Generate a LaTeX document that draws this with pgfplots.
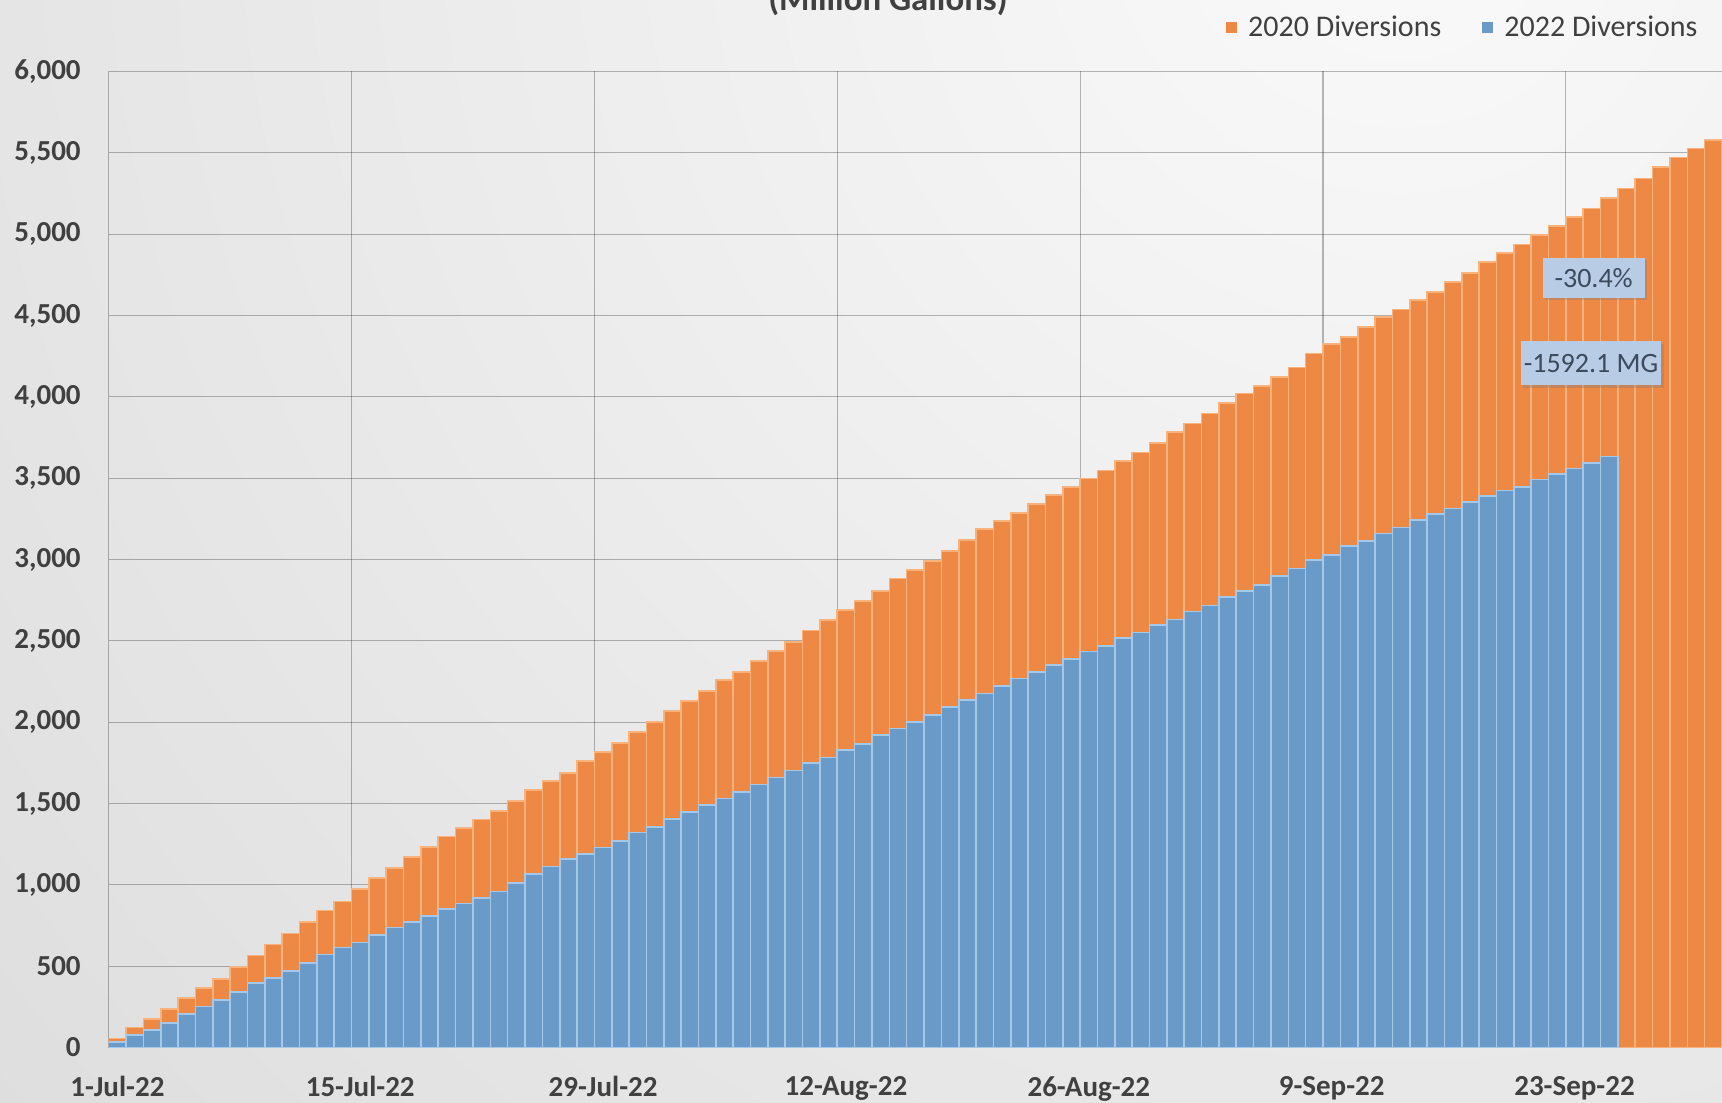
\documentclass[border=0pt]{standalone}
\usepackage{pgfplots}
\pgfplotsset{compat=1.18}
\usepackage{pgfplotstable}
\usepackage{fontspec}
\setmainfont{Carlito}
\usetikzlibrary{shadows}

\definecolor{bar20}{HTML}{ED8945}
\definecolor{bar20edge}{HTML}{F8B27C}
\definecolor{bar22}{HTML}{6A9AC8}
\definecolor{bar22edge}{HTML}{A3C8EA}
\definecolor{labelgray}{HTML}{404040}
\definecolor{calloutfill}{HTML}{B8CCE6}
\definecolor{callouttext}{HTML}{3C4A5E}

% cumulative diversions, million gallons; day 0 = 1 July
\pgfplotstableread{
day val
0 55
1 122
2 175
3 238
4 304
5 366
6 421
7 496
8 566
9 634
10 700
11 773
12 841
13 897
14 975
15 1041
16 1105
17 1170
18 1234
19 1296
20 1351
21 1402
22 1455
23 1515
24 1582
25 1640
26 1689
27 1763
28 1818
29 1873
30 1941
31 2002
32 2068
33 2130
34 2191
35 2259
36 2310
37 2377
38 2437
39 2494
40 2563
41 2627
42 2689
43 2746
44 2806
45 2883
46 2935
47 2990
48 3051
49 3119
50 3187
51 3236
52 3287
53 3340
54 3396
55 3447
56 3498
57 3547
58 3607
59 3659
60 3717
61 3785
62 3836
63 3898
64 3963
65 4021
66 4066
67 4123
68 4181
69 4267
70 4324
71 4369
72 4431
73 4492
74 4537
75 4595
76 4646
77 4707
78 4763
79 4830
80 4886
81 4937
82 4994
83 5049
84 5107
85 5158
86 5224
87 5281
88 5342
89 5414
90 5472
91 5527
92 5578
}\divtwenty

\pgfplotstableread{
day val
0 35
1 76
2 107
3 149
4 205
5 252
6 293
7 341
8 397
9 428
10 469
11 521
12 572
13 614
14 645
15 690
16 738
17 773
18 810
19 850
20 885
21 920
22 960
23 1010
24 1065
25 1112
26 1157
27 1190
28 1229
29 1271
30 1321
31 1357
32 1405
33 1446
34 1490
35 1531
36 1572
37 1616
38 1661
39 1703
40 1750
41 1783
42 1828
43 1865
44 1921
45 1962
46 2002
47 2043
48 2095
49 2136
50 2177
51 2222
52 2269
53 2310
54 2351
55 2389
56 2435
57 2470
58 2517
59 2550
60 2597
61 2630
62 2680
63 2717
64 2771
65 2808
66 2843
67 2898
68 2945
69 2996
70 3027
71 3082
72 3115
73 3160
74 3197
75 3242
76 3279
77 3314
78 3355
79 3390
80 3423
81 3447
82 3492
83 3525
84 3560
85 3595
86 3632
}\divtwentytwo

\begin{document}
\begin{tikzpicture}
\useasboundingbox (-54.35bp,-27.75bp) rectangle (806.65bp,523.75bp);
\clip (-54.35bp,-27.75bp) rectangle (806.65bp,523.75bp);
\shade[inner color=white!98!black, outer color=white!78!black] (645.6bp,573.75bp) circle (1700bp);

\node[font=\fontsize{17.4bp}{20bp}\selectfont\bfseries, text=labelgray, anchor=base]
  at (389.6bp,518.7bp) {(Million Gallons)};

\begin{axis}[
  at={(0,0)}, anchor=south west,
  scale only axis, width=806.65bp, height=488bp,
  xmin=-0.5, xmax=92.5, ymin=0, ymax=6000,
  axis line style={draw=none},
  xtick={0,14,...,84},
  xticklabels={1-Jul-22,15-Jul-22,29-Jul-22,12-Aug-22,26-Aug-22,9-Sep-22,23-Sep-22},
  ytick={0,500,...,6000},
  ymajorgrids,
  extra x ticks={-0.5,13.5,27.5,41.5,55.5,69.5,83.5},
  extra x tick labels={},
  extra x tick style={grid=major},
  major grid style={draw=black, opacity=0.27, line width=0.6bp},
  major tick length=0pt,
  tick style={draw=none},
  scaled y ticks=false,
  /pgf/number format/1000 sep={,},
  /pgf/number format/assume math mode=true,
  tick label style={font=\fontsize{14.5bp}{17bp}\selectfont\bfseries, text=labelgray},
  yticklabel shift=10.5bp,
  xticklabel shift=11bp,
  legend columns=2,
  legend image code/.code={\fill[#1, draw=none] (0bp,-2.7bp) rectangle (5.4bp,2.7bp);
    \path[draw=none, fill=none] (0bp,0bp) rectangle (9.2bp,0.1bp);},
  legend style={at={(rel axis cs:0.9912,1.045)}, anchor=east, draw=none, fill=none,
    font=\fontsize{15bp}{18bp}\selectfont, text=labelgray,
    /tikz/every even column/.append style={column sep=18.4bp}},
]
\addplot[ybar, bar width=1, bar shift=0pt, fill=bar20, draw=bar20edge, line width=0.8bp]
  table[x=day, y=val] {\divtwenty};
\addplot[ybar, bar width=1, bar shift=0pt, fill=bar22, draw=bar22edge, line width=0.8bp]
  table[x=day, y=val] {\divtwentytwo};
\legend{2020 Diversions, 2022 Diversions}

\node[fill=calloutfill, text=callouttext, font=\fontsize{14bp}{16bp}\selectfont,
  minimum width=51bp, minimum height=20bp, inner sep=2bp,
  drop shadow={shadow xshift=1.2bp, shadow yshift=-1.2bp, opacity=0.35}]
  at (axis cs:85.1,4730) {-30.4\%};
\node[fill=calloutfill, text=callouttext, font=\fontsize{14bp}{16bp}\selectfont,
  minimum width=70bp, minimum height=22bp, inner sep=1.5bp,
  drop shadow={shadow xshift=1.2bp, shadow yshift=-1.2bp, opacity=0.35}]
  at (axis cs:84.95,4207) {-1592.1 MG};
\end{axis}
\end{tikzpicture}
\end{document}
